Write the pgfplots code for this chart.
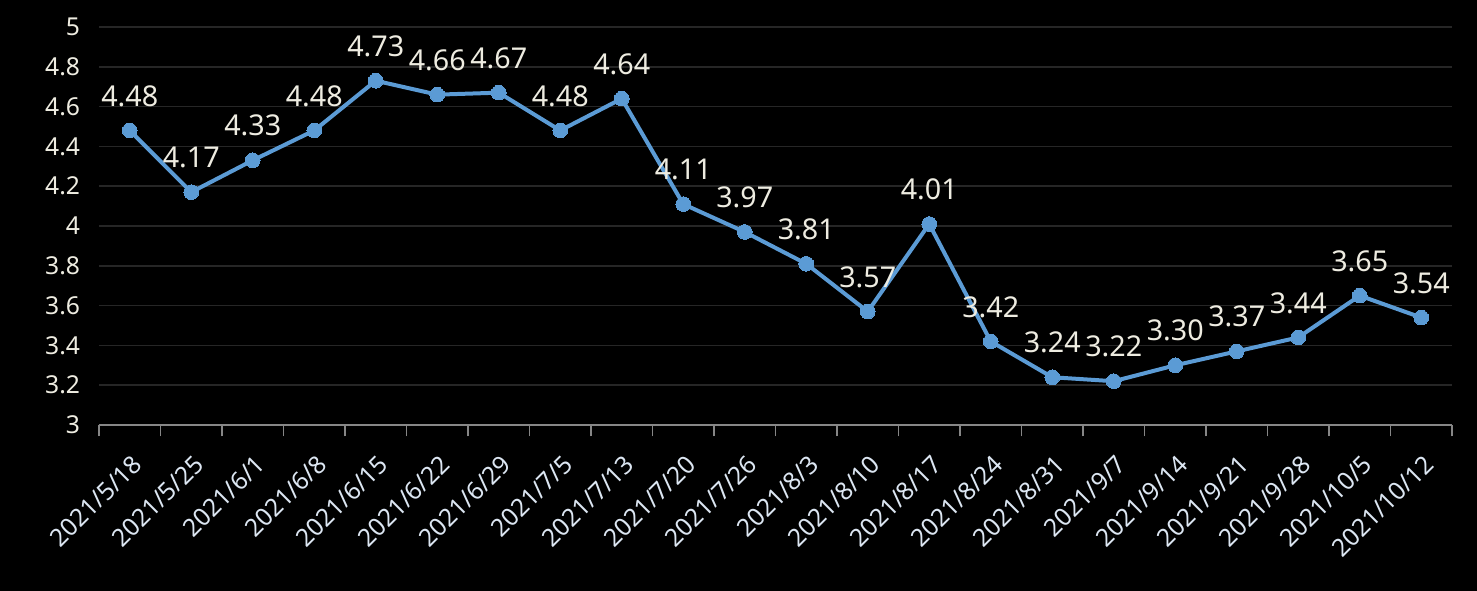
\documentclass[border=0pt]{standalone}
\usepackage{pgfplots}
\pgfplotsset{compat=1.18}
\usepackage{fontspec}
\setmainfont{Noto Sans}
\definecolor{linec}{HTML}{5B9BD5}
\definecolor{txtc}{HTML}{EEECE1}
\definecolor{xlabc}{HTML}{DCE6F2}
\definecolor{gridc}{HTML}{262626}
\definecolor{axisc}{HTML}{868686}
\begin{document}
\begin{tikzpicture}
\fill[black] (-74.25pt,-124.5pt) rectangle (1033.5pt,318.75pt);
\begin{axis}[
  at={(0,0)}, anchor=south west,
  scale only axis, width=1014.75pt, height=298.5pt,
  xmin=-0.5, xmax=21.5, ymin=3, ymax=5,
  ytick={3,3.2,3.4,3.6,3.8,4,4.2,4.4,4.6,4.8,5},
  xtick={0,...,21},
  xticklabels={2021/5/18,2021/5/25,2021/6/1,2021/6/8,2021/6/15,2021/6/22,2021/6/29,2021/7/5,2021/7/13,2021/7/20,2021/7/26,2021/8/3,2021/8/10,2021/8/17,2021/8/24,2021/8/31,2021/9/7,2021/9/14,2021/9/21,2021/9/28,2021/10/5,2021/10/12},
  minor xtick={-0.5,0.5,...,21.5},
  major tick length=0pt, minor tick length=8.5pt,
  tick align=outside,
  axis x line*=bottom, axis y line*=left,
  y axis line style={draw=none},
  x axis line style={axisc, line width=1.4pt},
  minor tick style={axisc, line width=1.4pt},
  major tick style={draw=none},
  ymajorgrids, grid style={gridc, line width=1.2pt},
  /pgf/number format/assume math mode=true,
  yticklabel style={font=\fontsize{18.5}{18.5}\selectfont, text=txtc, inner sep=0pt, xshift=-14pt},
  xticklabel style={xshift=6pt, yshift=-26pt, rotate=45, anchor=east, inner sep=0pt, font=\fontsize{18.5}{18.5}\selectfont, text=xlabc},
  clip=false,
  nodes near coords,
  point meta=y,
  nodes near coords style={font=\fontsize{21.5}{21.5}\selectfont, text=txtc, anchor=south, inner sep=0pt, yshift=18pt,
    /pgf/number format/fixed, /pgf/number format/fixed zerofill, /pgf/number format/precision=2},
]
\addplot[linec, line width=3pt, mark=*, mark size=5.5pt, mark options={fill=linec, draw=linec, line width=0pt}]
coordinates {
(0,4.48)(1,4.17)(2,4.33)(3,4.48)(4,4.73)(5,4.66)(6,4.67)(7,4.48)(8,4.64)(9,4.11)(10,3.97)
(11,3.81)(12,3.57)(13,4.01)(14,3.42)(15,3.24)(16,3.22)(17,3.30)(18,3.37)(19,3.44)(20,3.65)(21,3.54)
};
\end{axis}
\end{tikzpicture}
\end{document}
